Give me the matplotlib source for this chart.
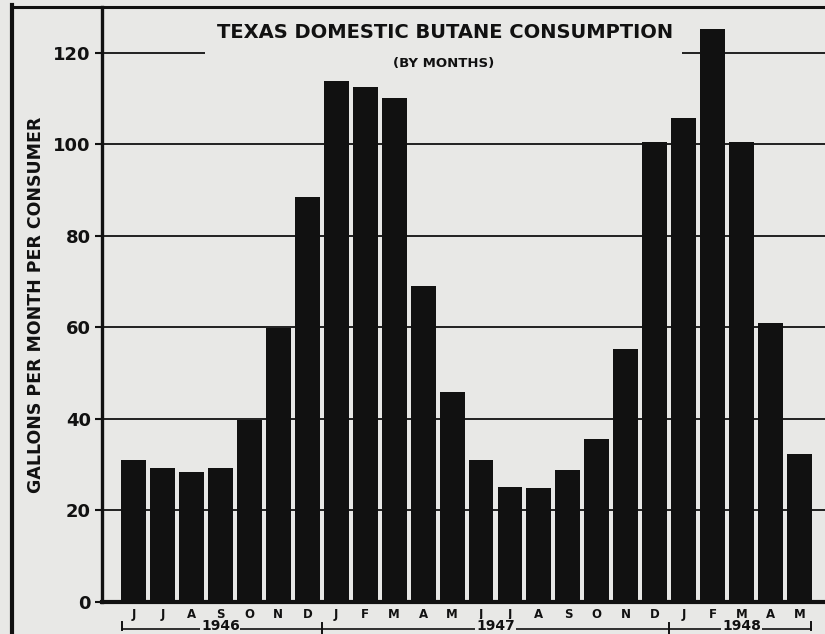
import matplotlib
matplotlib.use("Agg")
import matplotlib.pyplot as plt
from matplotlib.lines import Line2D
from matplotlib.patches import Rectangle
import matplotlib.transforms as mtransforms

months = ["J", "J", "A", "S", "O", "N", "D", "J", "F", "M", "A", "M",
          "J", "J", "A", "S", "O", "N", "D", "J", "F", "M", "A", "M"]
gallons = [31, 29.3, 28.4, 29.3, 39.8, 59.9, 88.5, 113.9, 112.6, 110.2, 69, 45.9,
           31, 25.1, 24.9, 28.9, 35.6, 55.3, 100.5, 105.8, 125.2, 100.5, 61, 32.3]
years = ["1946", "1947", "1948"]
year_spans = [(0, 6), (7, 18), (19, 23)]
yticks = [0, 20, 40, 60, 80, 100, 120]

BG = "#e8e8e6"
INK = "#111111"
FONT = "DejaVu Sans"

W, H = 825, 634
fig = plt.figure(figsize=(W / 100, H / 100), dpi=100, facecolor=BG)

def fx(px):
    return px / W

def fy(py):
    return 1 - py / H

ax = fig.add_axes([fx(102), fy(602), fx(825) - fx(102), fy(7) - fy(602)])
ax.set_facecolor(BG)

x = list(range(len(gallons)))
ax.bar(x, gallons, width=0.86, color=INK, zorder=3)

ax.set_xlim(-1.09, 23.88)
ax.set_ylim(0, 130)

# grid lines
for t in yticks[1:]:
    ax.axhline(t, color=INK, lw=1.3, zorder=1)

# plain box behind title interrupting the 120 grid line
ax.add_patch(Rectangle((fx(205), fy(80)), fx(682) - fx(205), fy(15) - fy(80),
                       transform=fig.transFigure, facecolor=BG, edgecolor="none",
                       zorder=2))

ax.set_yticks(yticks)
ax.set_yticklabels([str(t) for t in yticks], fontsize=13, fontweight="bold",
                   family=FONT, color=INK)
ax.tick_params(axis="y", length=5, width=1.5, color=INK, pad=3)

ax.set_xticks(x)
ax.set_xticklabels(months, fontsize=8.5, fontweight="bold", family=FONT, color=INK)
ax.tick_params(axis="x", length=0, pad=4)

ax.spines["right"].set_visible(False)
ax.spines["left"].set_linewidth(2.4)
ax.spines["bottom"].set_linewidth(3.0)
ax.spines["top"].set_linewidth(2.2)
for s in ["left", "bottom", "top"]:
    ax.spines[s].set_color(INK)

ax.set_ylabel("GALLONS PER MONTH PER CONSUMER", fontsize=12.5, fontweight="bold",
              family=FONT, color=INK, labelpad=6)

# title
fig.text(fx(445), fy(33), "TEXAS DOMESTIC BUTANE CONSUMPTION", ha="center",
         va="center", fontsize=14, fontweight="bold", family=FONT, color=INK)
fig.text(fx(444), fy(63), "(BY MONTHS)", ha="center", va="center",
         fontsize=9.5, fontweight="bold", family=FONT, color=INK)

# outer frame
fig.add_artist(Line2D([fx(12), fx(12)], [fy(5), 0], transform=fig.transFigure,
                      color=INK, lw=3.0))
fig.add_artist(Line2D([fx(12), fx(102)], [fy(7), fy(7)], transform=fig.transFigure,
                      color=INK, lw=2.2))

# year brackets
trans = mtransforms.blended_transform_factory(ax.transData, fig.transFigure)
yb = fy(629)
for (a, b), yr in zip(year_spans, years):
    left = a - 0.4 if a == 0 else a - 0.5
    right = b + 0.4 if b == len(gallons) - 1 else b + 0.5
    ax.add_line(Line2D([left, right], [yb, yb], transform=trans, color=INK,
                       lw=1.2, clip_on=False))
    ax.text((a + b) / 2, fy(633.5), yr, transform=trans, ha="center", va="bottom",
            fontsize=10, fontweight="bold", family=FONT, color=INK,
            bbox=dict(facecolor=BG, edgecolor="none", pad=0.5), clip_on=False,
            zorder=5)
for xv in [-0.4, 23.4]:
    ax.add_line(Line2D([xv, xv], [fy(622), fy(630)], transform=trans, color=INK,
                       lw=1.4, clip_on=False))
for xv in [6.5, 18.5]:
    ax.add_line(Line2D([xv, xv], [fy(623), fy(634)], transform=trans, color=INK,
                       lw=1.4, clip_on=False))

fig.savefig("out.png", dpi=100, facecolor=BG)
